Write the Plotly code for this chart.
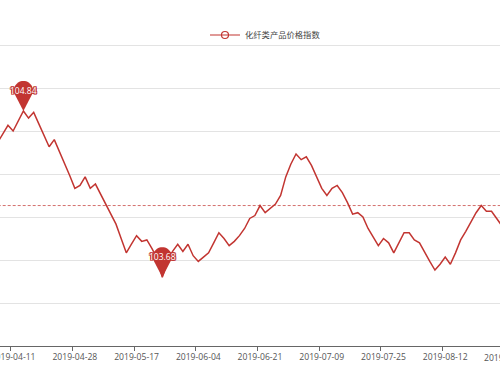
import math
import plotly.graph_objects as go

series_name = "化纤类产品价格指数"

dates = [
    "2019-04-08", "2019-04-09", "2019-04-10",
    "2019-04-11", "2019-04-12", "2019-04-15", "2019-04-16", "2019-04-17", "2019-04-18", "2019-04-19",
    "2019-04-22", "2019-04-23", "2019-04-24", "2019-04-25", "2019-04-26", "2019-04-28",
    "2019-04-29", "2019-04-30", "2019-05-06", "2019-05-07", "2019-05-08", "2019-05-09", "2019-05-10",
    "2019-05-13", "2019-05-14", "2019-05-15", "2019-05-16", "2019-05-17",
    "2019-05-20", "2019-05-21", "2019-05-22", "2019-05-23", "2019-05-24",
    "2019-05-27", "2019-05-28", "2019-05-29", "2019-05-30", "2019-05-31", "2019-06-03", "2019-06-04",
    "2019-06-05", "2019-06-06", "2019-06-10", "2019-06-11", "2019-06-12", "2019-06-13", "2019-06-14",
    "2019-06-17", "2019-06-18", "2019-06-19", "2019-06-20", "2019-06-21",
    "2019-06-24", "2019-06-25", "2019-06-26", "2019-06-27", "2019-06-28",
    "2019-07-01", "2019-07-02", "2019-07-03", "2019-07-04", "2019-07-05", "2019-07-08", "2019-07-09",
    "2019-07-10", "2019-07-11", "2019-07-12", "2019-07-15", "2019-07-16", "2019-07-17", "2019-07-18",
    "2019-07-19", "2019-07-22", "2019-07-23", "2019-07-24", "2019-07-25",
    "2019-07-26", "2019-07-29", "2019-07-30", "2019-07-31", "2019-08-01", "2019-08-02",
    "2019-08-05", "2019-08-06", "2019-08-07", "2019-08-08", "2019-08-09", "2019-08-12",
    "2019-08-13", "2019-08-14", "2019-08-15", "2019-08-16", "2019-08-19", "2019-08-20",
    "2019-08-21", "2019-08-22", "2019-08-23", "2019-08-26", "2019-08-27",
]

values = [
    104.62, 104.68, 104.74, 104.70, 104.77, 104.84, 104.79, 104.83, 104.75, 104.67,
    104.59, 104.64, 104.56, 104.47, 104.39, 104.30, 104.32, 104.38, 104.30, 104.33,
    104.26, 104.19, 104.12, 104.05, 103.95, 103.85, 103.91, 103.97, 103.93, 103.94,
    103.88, 103.81, 103.68, 103.78, 103.86, 103.91, 103.86, 103.91, 103.83, 103.79,
    103.82, 103.85, 103.92, 103.99, 103.95, 103.90, 103.93, 103.97, 104.02, 104.09,
    104.11, 104.18, 104.13, 104.16, 104.19, 104.25, 104.38, 104.47, 104.54, 104.50,
    104.52, 104.46, 104.38, 104.30, 104.25, 104.30, 104.32, 104.27, 104.20, 104.12,
    104.13, 104.10, 104.02, 103.96, 103.90, 103.95, 103.92, 103.85, 103.92, 103.99,
    103.99, 103.94, 103.92, 103.85, 103.79, 103.73, 103.77, 103.82, 103.77, 103.85,
    103.94, 104.00, 104.07, 104.13, 104.18, 104.14, 104.14, 104.09, 104.04,
]

# x-axis labels (every 12th category starting at 2019-04-11); last one is just past the data
tick_labels = ["2019-04-11", "2019-04-28", "2019-05-17", "2019-06-04", "2019-06-21",
               "2019-07-09", "2019-07-25", "2019-08-12", "2019-08-28"]
label_step = 12

avg_value = 104.18  # mean line

COLOR = "#c23531"
W, H = 500, 375
ML, MR, MT, MB = 0, 0, 42, 29

x = list(range(len(dates)))
first_label_idx = dates.index(tick_labels[0])
tick_idx = [first_label_idx + label_step * i for i in range(len(tick_labels))]

# visible window of the category axis (chart is cropped on both sides)
x0 = first_label_idx - 2.55
x1 = x0 + 97.2

fig = go.Figure()
fig.add_trace(go.Scatter(
    x=x, y=values, mode="lines", name=series_name, showlegend=False,
    line=dict(color=COLOR, width=1.5),
    hovertext=dates,
))
# average (mark line), dashed
fig.add_trace(go.Scatter(
    x=[x[0], x[-1]], y=[avg_value, avg_value], mode="lines", showlegend=False,
    line=dict(color="rgba(194,53,49,0.7)", width=1, dash="3px,2px"),
))
# legend entry (line + empty circle)
fig.add_trace(go.Scatter(
    x=[None], y=[None], mode="lines+markers", name=series_name,
    line=dict(color=COLOR, width=1.2),
    marker=dict(symbol="circle-open", size=7, color=COLOR, line=dict(width=1.2)),
))

# pin markers for max / min
imax = values.index(max(values))
imin = values.index(min(values))
r, c = 9.5, 20.5
alpha = math.asin(r / c)
pts = []
a0 = -alpha
a1 = math.pi + alpha
n = 28
for j in range(n + 1):
    a = a0 + (a1 - a0) * j / n
    pts.append((r * math.cos(a), c + r * math.sin(a)))
path = "M 0,0 " + " ".join("L %.2f,%.2f" % p for p in pts) + " Z"

outline = ", ".join("%dpx %dpx 0 %s" % (dx, dy, COLOR)
                    for dx, dy in [(-1, 0), (1, 0), (0, -1), (0, 1), (-1, -1), (1, 1), (-1, 1), (1, -1)])

shapes = []
annotations = []
for idx in (imax, imin):
    shapes.append(dict(
        type="path", xref="x", yref="y", xsizemode="pixel", ysizemode="pixel",
        xanchor=x[idx], yanchor=values[idx], path=path,
        fillcolor=COLOR, line=dict(color=COLOR, width=0), layer="above",
    ))
    annotations.append(dict(
        x=x[idx], y=values[idx], xref="x", yref="y", text="%.2f" % values[idx],
        showarrow=False, yshift=c, xanchor="center",
        font=dict(color="white", size=8.5, family="Open Sans", shadow=outline),
    ))

# label past the right edge (only partially visible)
last_frac = (tick_idx[-1] - x0) / (x1 - x0)
annotations.append(dict(
    x=last_frac, xref="paper", xanchor="center", y=0, yref="paper", yanchor="top", yshift=-4,
    text=tick_labels[-1], showarrow=False,
    font=dict(size=8.6, color="#555", family="Open Sans"),
))

fig.update_layout(
    width=W, height=H,
    margin=dict(l=ML, r=MR, t=MT, b=MB, pad=0, autoexpand=False),
    paper_bgcolor="white", plot_bgcolor="white",
    font=dict(family="Open Sans", color="#555"),
    showlegend=True,
    legend=dict(orientation="h", x=0.41, xanchor="left", y=1.023, yanchor="middle",
                font=dict(size=8.3, color="#444", family="Noto Sans CJK SC"),
                bgcolor="rgba(0,0,0,0)"),
    shapes=shapes, annotations=annotations,
    hovermode=False,
)
fig.update_xaxes(
    range=[x0, x1], showgrid=False, zeroline=False, automargin=False,
    tickmode="array", tickvals=tick_idx, ticktext=tick_labels,
    ticks="", ticklabelstandoff=3, ticklabeloverflow="allow",
    tickfont=dict(size=8.6, color="#555", family="Open Sans"),
    showline=True, linecolor="#666", linewidth=1,
    minor=dict(tickmode="array", tickvals=[t - 0.5 for t in tick_idx], ticks="outside",
               ticklen=4, tickcolor="#666", tickwidth=1, showgrid=False),
)
fig.update_yaxes(
    range=[103.2, 105.321], tick0=103.2, dtick=0.3, showticklabels=False, automargin=False,
    showgrid=True, gridcolor="#e3e3e3", gridwidth=1, zeroline=False, ticks="",
)

fig.write_html("out.html", config={"displayModeBar": False},
               post_script="document.body.style.margin='0px';")
